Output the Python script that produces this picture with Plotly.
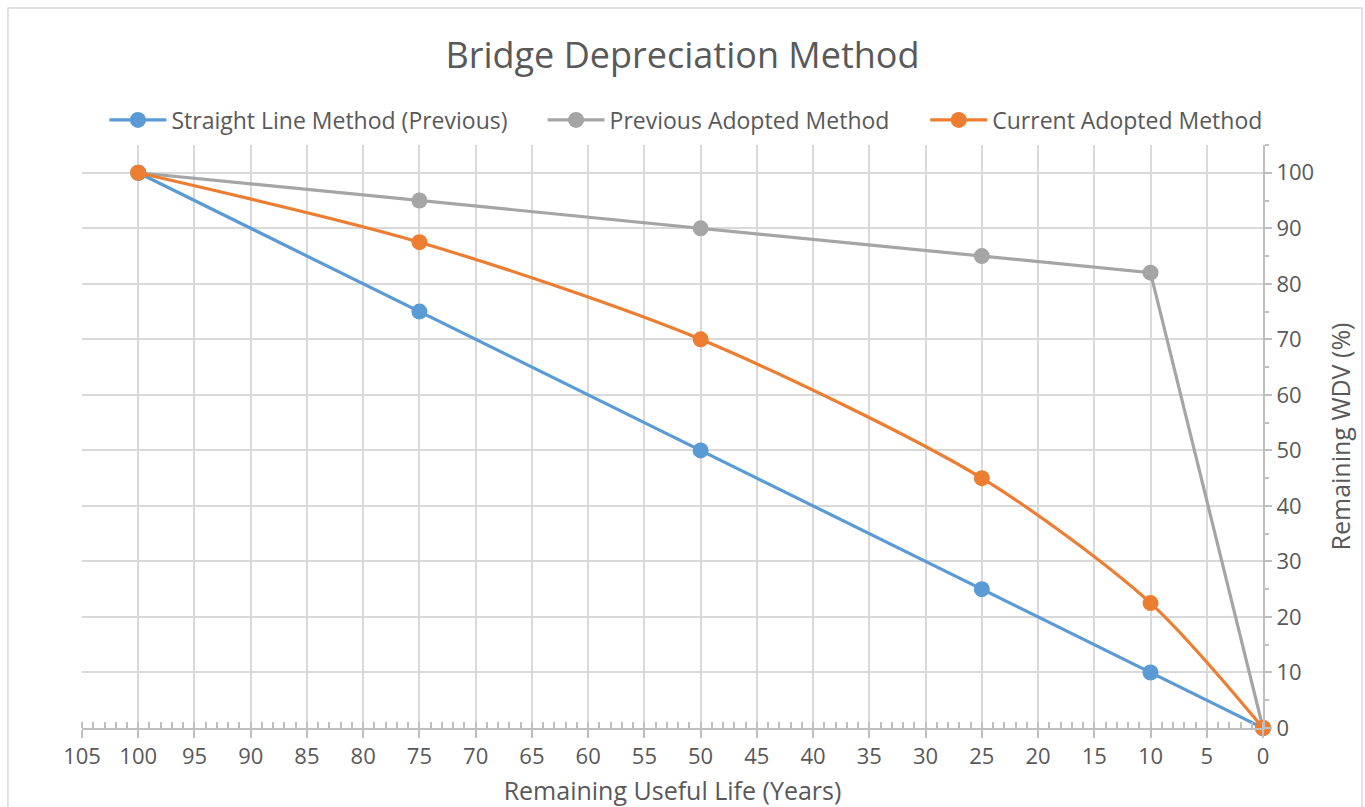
import plotly.graph_objects as go

# Remaining useful life (years) at each assessment point
life_years = [100, 75, 50, 25, 10, 0]

# Remaining written-down value (%) for each method
straight_line = [100, 75, 50, 25, 10, 0]
previous_adopted = [100, 95, 90, 85, 82, 0]
current_adopted = [100, 87.5, 70, 45, 22.5, 0]

x_ticks = list(range(105, -1, -5))
y_ticks = list(range(0, 101, 10))

FONT = "Open Sans"
TEXT = "#595959"
GRID = "#d9d9d9"
AXIS = "#bfbfbf"

fig = go.Figure()

# each series gets its own legend box so the entries can sit where they belong
series = [
    ("Straight Line Method (Previous)", straight_line, "#5B9BD5", "linear", "legend"),
    ("Previous Adopted Method", previous_adopted, "#A5A5A5", "linear", "legend2"),
    ("Current Adopted Method", current_adopted, "#ED7D31", "spline", "legend3"),
]
for name, vals, color, shape, leg in series:
    fig.add_trace(go.Scatter(
        x=life_years, y=vals, name=name, mode="lines+markers",
        line=dict(color=color, width=3.2, shape=shape, smoothing=0.8),
        marker=dict(color=color, size=16),
        cliponaxis=False, legend=leg,
    ))

legend_style = dict(orientation="h", xanchor="left", y=1.043, yanchor="middle",
                    font=dict(family=FONT, size=23, color=TEXT), itemwidth=57,
                    bgcolor="rgba(0,0,0,0)")

fig.update_layout(
    width=1365, height=807,
    margin=dict(l=82, r=102, t=145, b=79),
    paper_bgcolor="white", plot_bgcolor="white",
    font=dict(family=FONT, color=TEXT, size=20),
    title=dict(text="Bridge Depreciation Method", x=0.5, xanchor="center",
               y=1 - 55 / 807, yanchor="middle",
               font=dict(family=FONT, size=36, color=TEXT)),
    legend=dict(x=0.019, **legend_style),
    legend2=dict(x=0.390, **legend_style),
    legend3=dict(x=0.714, **legend_style),
    showlegend=True,
)

fig.update_xaxes(
    range=[105, 0], tickvals=x_ticks, ticktext=[str(v) for v in x_ticks],
    showgrid=True, gridcolor=GRID, gridwidth=2,
    showline=True, linecolor=AXIS, linewidth=2,
    ticks="outside", ticklen=8, tickwidth=2, tickcolor=AXIS,
    tickfont=dict(family=FONT, size=22, color=TEXT),
    minor=dict(dtick=1, ticks="inside", ticklen=6, tickwidth=1.5, tickcolor=AXIS, showgrid=False),
    zeroline=False, automargin=False,
    title=dict(text="Remaining Useful Life (Years)", font=dict(family=FONT, size=25, color=TEXT), standoff=17),
)

fig.update_yaxes(
    range=[0, 105], side="right", tickvals=y_ticks,
    showgrid=True, gridcolor=GRID, gridwidth=2,
    showline=True, linecolor=AXIS, linewidth=2,
    ticks="outside", ticklen=7, tickwidth=2, tickcolor=AXIS,
    tickfont=dict(family=FONT, size=22, color=TEXT),
    minor=dict(dtick=5, ticks="outside", ticklen=4, tickwidth=1.5, tickcolor=AXIS, showgrid=False),
    zeroline=False, automargin=False,
    title=dict(text="Remaining WDV (%)", font=dict(family=FONT, size=25, color=TEXT), standoff=19),
)

# Outer chart frame
fig.add_shape(type="rect", xref="paper", yref="paper",
              x0=-0.0627, x1=1.0838, y0=-0.2, y1=1.235,
              line=dict(color="#d9d9d9", width=1.5), layer="below")

fig.write_html("out.html")
